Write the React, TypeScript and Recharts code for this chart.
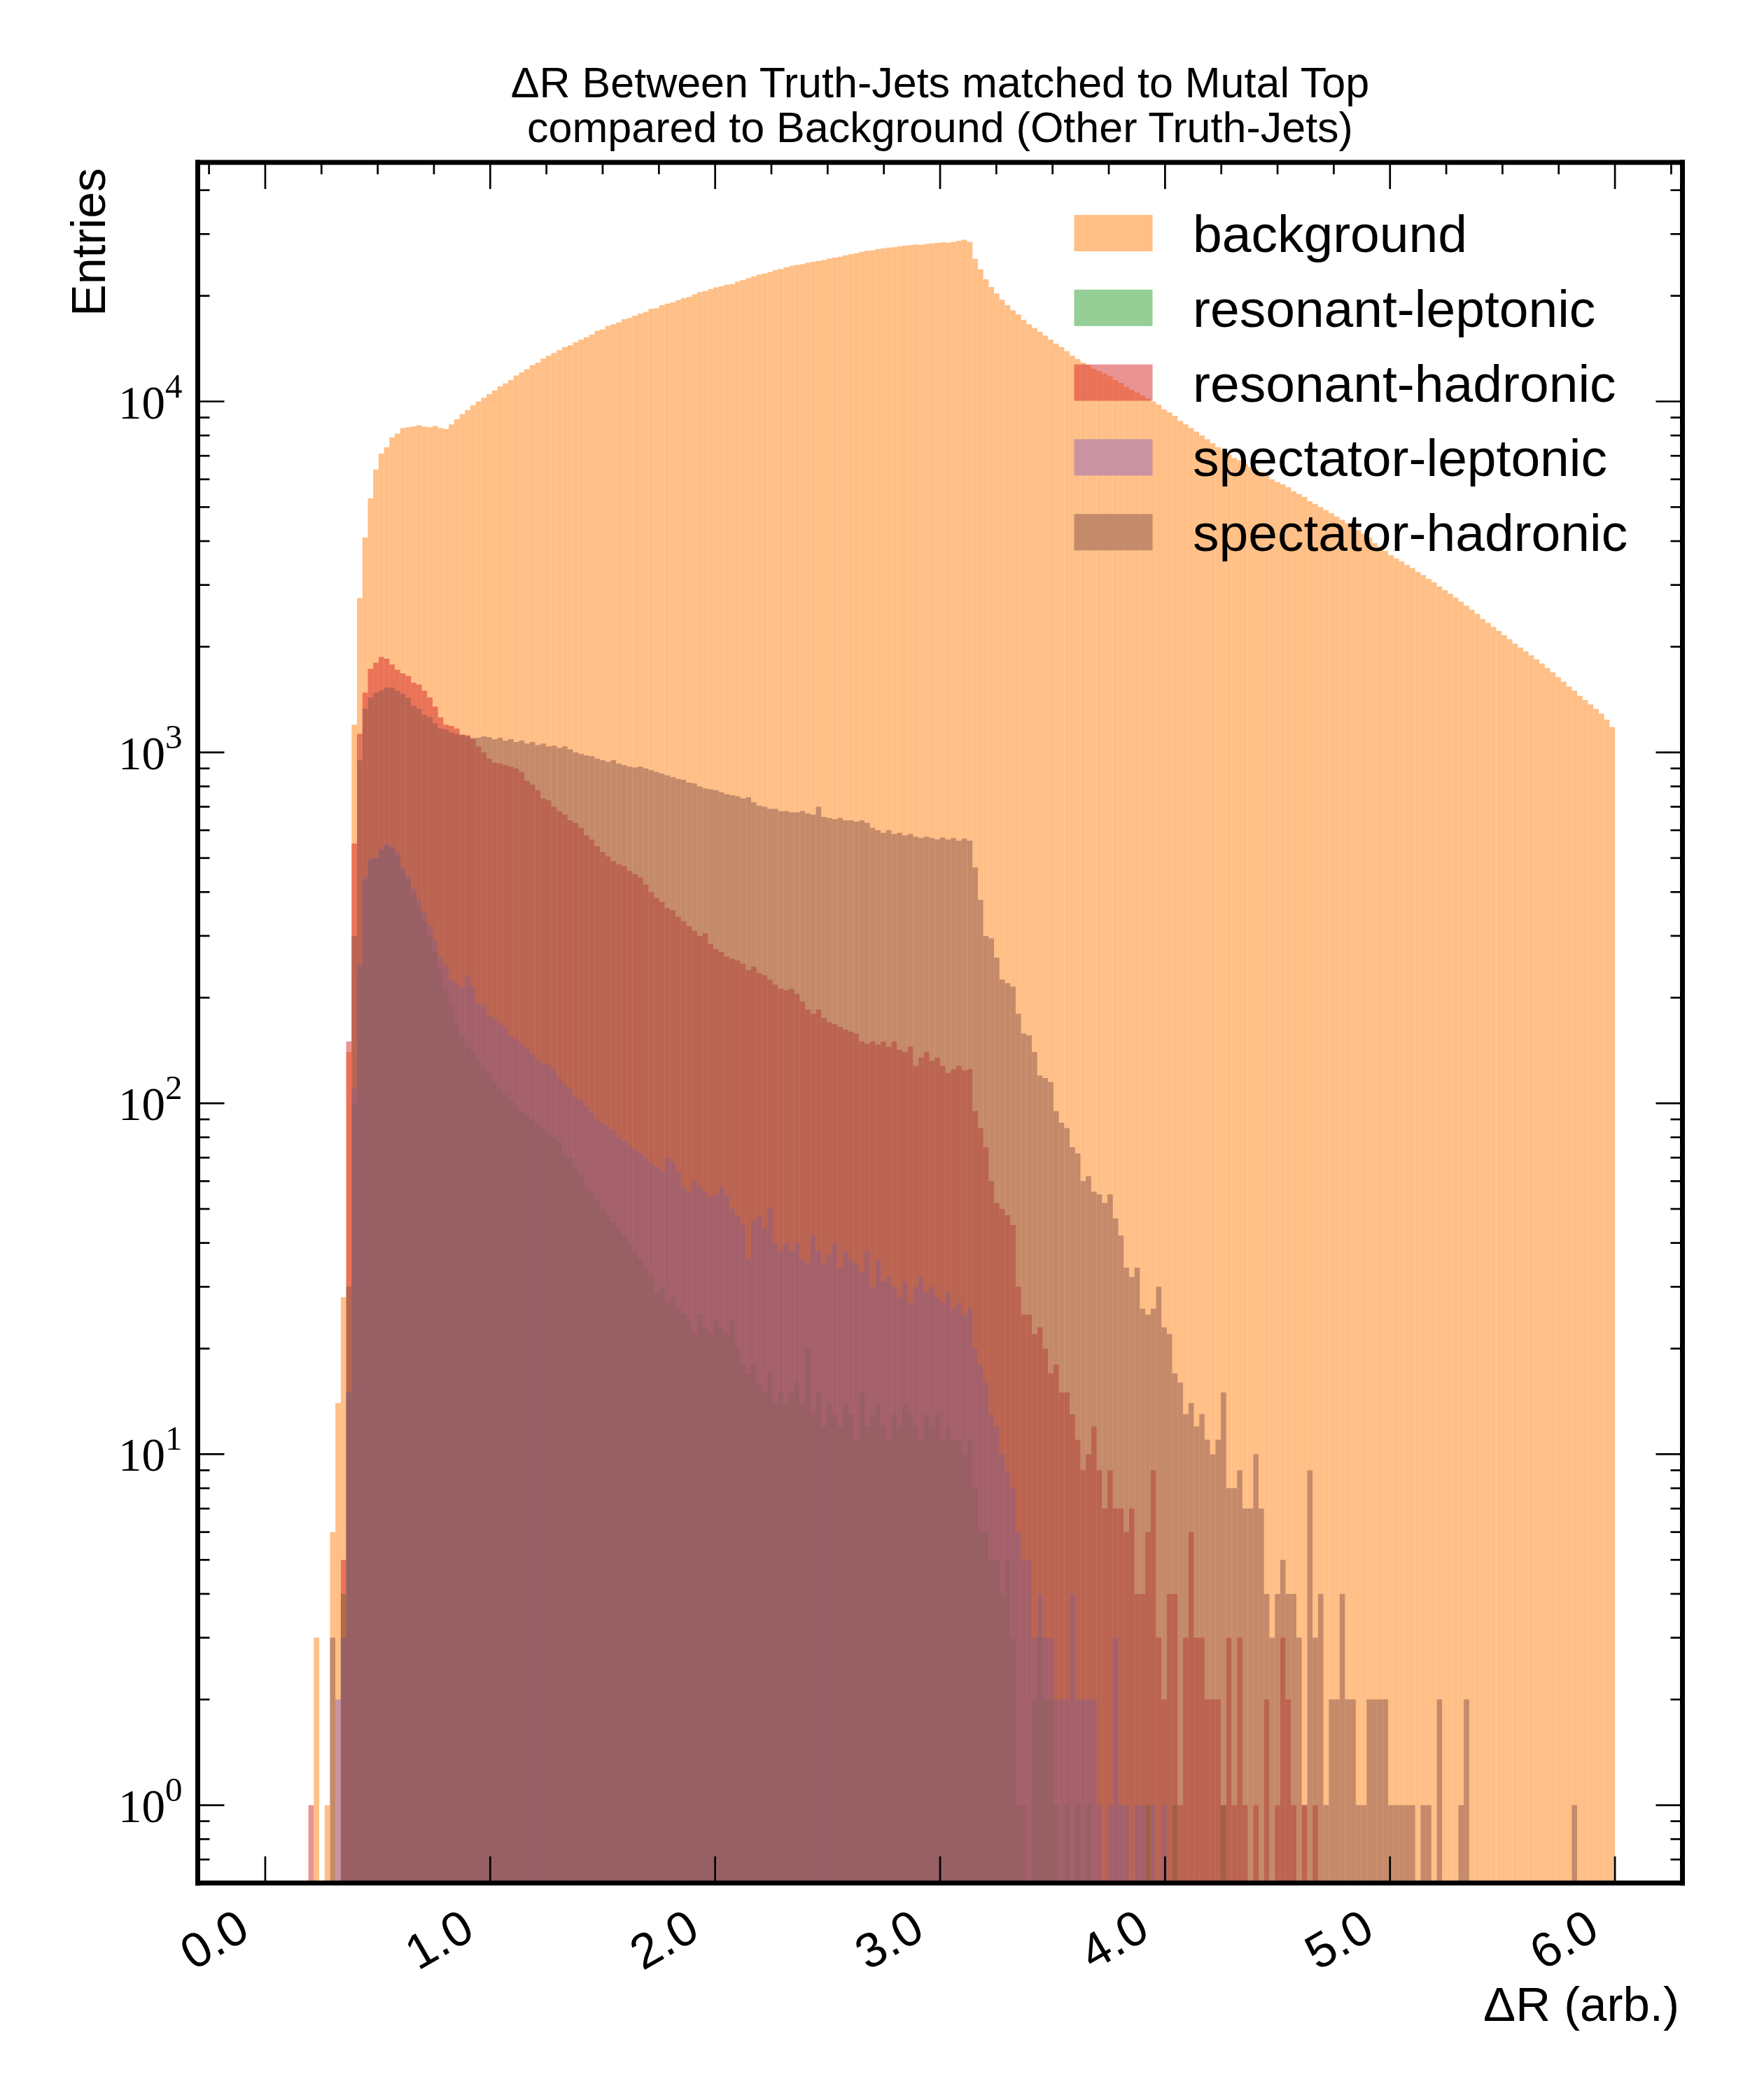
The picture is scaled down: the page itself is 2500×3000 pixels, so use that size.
import React from 'react';
import { ComposedChart, Bar, Line, XAxis, YAxis } from 'recharts';

// histogram bin width in ΔR, bins start at 0
const BIN_WIDTH = 0.024;

// counts per bin (250 bins from 0 to 6)
const background = [
  0, 0, 0, 0, 0, 0, 0, 0, 0, 3,
  0, 1, 6, 14, 28, 140, 1200, 2750, 4100, 5300,
  6400, 7100, 7400, 7900, 8100, 8400, 8450, 8500, 8550, 8480,
  8450, 8520, 8400, 8350, 8600, 8900, 9200, 9450, 9750, 10000,
  10250, 10500, 10750, 11050, 11250, 11500, 11850, 12100, 12350, 12700,
  12900, 13250, 13500, 13750, 14000, 14300, 14450, 14750, 15000, 15250,
  15500, 15900, 16050, 16400, 16600, 16800, 17150, 17300, 17550, 17800,
  18000, 18350, 18450, 18800, 19000, 19150, 19450, 19700, 19850, 20200,
  20500, 20650, 20900, 21150, 21300, 21500, 21600, 21950, 22200, 22450,
  22700, 23000, 23150, 23400, 23700, 23850, 24100, 24350, 24500, 24600,
  24850, 25000, 25150, 25300, 25550, 25700, 25850, 26100, 26300, 26450,
  26700, 26900, 26950, 27200, 27300, 27450, 27500, 27700, 27800, 27900,
  28000, 27950, 28100, 28200, 28300, 28400, 28350, 28500, 28700, 28900,
  28500, 25500, 23800, 22300, 21200, 20300, 19500, 18800, 18200, 17700,
  17100, 16600, 16200, 15800, 15400, 15000, 14600, 14300, 13900, 13500,
  13200, 12900, 12700, 12400, 12200, 12000, 11800, 11500, 11300, 11000,
  10800, 10600, 10400, 10200, 10000, 9800, 9500, 9300, 9100, 8800,
  8600, 8400, 8200, 8000, 7800, 7600, 7400, 7250, 7050, 6900,
  6800, 6650, 6500, 6400, 6300, 6150, 6000, 5900, 5800, 5700,
  5550, 5450, 5350, 5200, 5100, 5000, 4900, 4800, 4700, 4600,
  4500, 4400, 4300, 4200, 4100, 3950, 3850, 3750, 3650, 3570,
  3500, 3420, 3350, 3270, 3200, 3120, 3050, 2970, 2900, 2830,
  2760, 2690, 2620, 2550, 2480, 2400, 2340, 2280, 2220, 2160,
  2100, 2040, 1990, 1940, 1890, 1840, 1790, 1740, 1690, 1640,
  1590, 1540, 1500, 1450, 1410, 1370, 1330, 1290, 1240, 1180,
];

const resonantLeptonic = [
  0, 0, 0, 0, 0, 0, 0, 0, 0, 0,
  0, 0, 0, 0, 4, 15, 100, 240, 430, 490,
  500, 525, 540, 530, 505, 460, 430, 395, 360, 330,
  300, 270, 240, 210, 190, 170, 155, 145, 140, 132,
  126, 122, 115, 110, 106, 102, 98, 95, 93, 90,
  88, 85, 82, 80, 78, 72, 70, 66, 63, 58,
  56, 53, 50, 48, 46, 44, 42, 40, 38, 36,
  34, 32, 29, 30, 27, 28, 26, 25, 24, 22,
  25, 23, 22, 24, 23, 22, 24, 20, 18, 17,
  18, 16, 15, 17, 14, 15, 14, 15, 16, 14,
  20, 13, 15, 12, 14, 13, 12, 14, 13, 11,
  15, 12, 13, 14, 12, 11, 13, 12, 14, 13,
  12, 11, 13, 12, 13, 11, 12, 11, 11, 10,
  11, 8, 6, 6, 5, 5, 4, 5, 3, 1,
  1, 0, 2, 3, 2, 2, 1, 0, 1, 0,
  1, 0, 1, 0, 0, 0, 0, 0, 0, 0,
  0, 0, 0, 1, 0, 0, 0, 0, 1, 0,
  0, 0, 0, 0, 0, 0, 0, 1, 0, 0,
  0, 0, 0, 0, 0, 0, 0, 0, 0, 0,
  0, 0, 0, 0, 0, 0, 0, 0, 0, 0,
  0, 0, 0, 0, 0, 0, 0, 0, 0, 0,
  0, 0, 0, 0, 0, 0, 0, 0, 0, 0,
  0, 0, 0, 0, 0, 0, 0, 0, 0, 0,
  0, 0, 0, 0, 0, 0, 0, 0, 0, 0,
  0, 0, 0, 0, 0, 0, 0, 0, 0, 0,
];

const resonantHadronic = [
  0, 0, 0, 0, 0, 0, 0, 0, 1, 0,
  0, 0, 0, 0, 5, 150, 550, 1130, 1480, 1730,
  1800, 1870, 1850, 1780, 1720, 1680, 1650, 1580, 1560, 1500,
  1435, 1350, 1258, 1200, 1190, 1170, 1125, 1120, 1090, 1040,
  1000, 960, 935, 930, 920, 910, 900, 880, 830, 810,
  780, 740, 730, 700, 680, 665, 640, 630, 610, 580,
  565, 540, 520, 505, 490, 480, 475, 460, 450, 440,
  420, 400, 385, 375, 360, 355, 340, 330, 320, 310,
  300, 305, 285, 275, 270, 262, 258, 255, 250, 240,
  245, 235, 232, 225, 218, 212, 210, 212, 205, 195,
  185, 180, 185, 175, 170, 168, 165, 162, 160, 158,
  150, 148, 150, 147, 150, 145, 150, 142, 140, 145,
  128, 135, 140, 132, 135, 128, 122, 125, 128, 124,
  125, 95, 85, 75, 60, 52, 50, 48, 45, 30,
  25, 25, 22, 23, 20, 17, 18, 15, 15, 13,
  11, 9, 10, 12, 9, 7, 9, 7, 7, 6,
  7, 4, 4, 6, 9, 3, 2, 4, 4, 1,
  3, 6, 3, 3, 2, 2, 2, 1, 3, 1,
  3, 1, 0, 1, 0, 2, 0, 1, 3, 2,
  1, 0, 1, 0, 1, 0, 0, 0, 0, 0,
  0, 0, 0, 0, 0, 0, 0, 0, 0, 0,
  0, 0, 0, 0, 0, 0, 0, 0, 0, 0,
  0, 0, 0, 0, 0, 0, 0, 0, 0, 0,
  0, 0, 0, 0, 0, 0, 0, 0, 0, 0,
  0, 0, 0, 0, 0, 0, 0, 0, 0, 0,
];

const spectatorLeptonic = [
  0, 0, 0, 0, 0, 0, 0, 0, 0, 0,
  0, 0, 0, 2, 3, 15, 110, 250, 440, 498,
  500, 530, 548, 540, 519, 470, 442, 410, 380, 350,
  320, 290, 260, 246, 225, 220, 215, 232, 215, 193,
  190, 178, 175, 169, 165, 155, 152, 148, 144, 138,
  133, 130, 129, 125, 118, 113, 110, 104, 102, 98,
  94, 90, 88, 86, 84, 80, 78, 76, 74, 72,
  70, 68, 66, 64, 70, 68, 64, 58, 56, 60,
  58, 56, 54, 55, 58, 55, 50, 48, 45, 36,
  46, 48, 44, 50, 40, 38, 40, 38, 40, 36,
  35, 42, 38, 35, 37, 40, 34, 38, 36, 35,
  33, 38, 30, 36, 31, 32, 30, 28, 31, 27,
  30, 32, 29, 30, 28, 27, 29, 26, 27, 25,
  26, 20, 18, 16, 13, 12, 10, 9, 8, 6,
  5, 5, 3, 4, 3, 3, 2, 2, 2, 4,
  2, 2, 2, 2, 1, 0, 1, 3, 1, 1,
  0, 1, 1, 0, 1, 0, 1, 0, 0, 0,
  0, 0, 0, 0, 0, 0, 0, 0, 0, 0,
  0, 0, 0, 0, 0, 0, 0, 0, 0, 0,
  0, 0, 0, 0, 0, 0, 0, 0, 0, 0,
  0, 0, 0, 0, 0, 0, 0, 0, 0, 0,
  0, 0, 0, 0, 0, 0, 0, 0, 0, 0,
  0, 0, 0, 0, 0, 0, 0, 0, 0, 0,
  0, 0, 0, 0, 0, 0, 0, 0, 0, 0,
  0, 0, 0, 0, 0, 0, 0, 0, 0, 0,
];

const spectatorHadronic = [
  0, 0, 0, 0, 0, 0, 0, 0, 0, 0,
  0, 0, 3, 0, 3, 30, 300, 950, 1330, 1435,
  1480, 1500, 1530, 1530, 1500, 1470, 1430, 1360, 1330, 1280,
  1260, 1210, 1170, 1160, 1140, 1128, 1120, 1110, 1100, 1100,
  1110, 1105, 1090, 1100, 1080, 1090, 1070, 1080, 1060, 1070,
  1050, 1060, 1040, 1045, 1030, 1040, 1020, 1000, 990, 980,
  975, 960, 950, 940, 950, 930, 920, 910, 905, 910,
  900, 890, 880, 870, 860, 850, 840, 835, 820, 815,
  800, 790, 785, 780, 770, 760, 755, 750, 740, 745,
  720, 705, 700, 690, 690, 680, 680, 675, 675, 680,
  670, 665, 700, 655, 650, 645, 650, 640, 640, 635,
  640, 630, 610, 600, 590, 600, 585, 590, 580, 585,
  575, 570, 575, 570, 565, 572, 565, 570, 560, 568,
  560, 470, 380, 300, 295, 260, 225, 220, 215, 180,
  158, 156, 140, 120, 118, 115, 95, 88, 85, 75,
  72, 60, 62, 56, 55, 52, 55, 47, 42, 34,
  32, 34, 26, 25, 26, 30, 23, 22, 17, 16,
  13, 14, 12, 13, 11, 10, 11, 15, 8, 8,
  9, 7, 7, 10, 7, 4, 3, 4, 5, 4,
  4, 3, 1, 9, 3, 4, 1, 2, 2, 4,
  2, 2, 1, 1, 2, 2, 2, 2, 1, 1,
  1, 1, 1, 0, 1, 1, 0, 2, 0, 0,
  0, 1, 2, 0, 0, 0, 0, 0, 0, 0,
  0, 0, 0, 0, 0, 0, 0, 0, 0, 0,
  0, 0, 1, 0, 0, 0, 0, 0, 0, 0,
];

const seriesKeys = ['background', 'resonantLeptonic', 'resonantHadronic', 'spectatorLeptonic', 'spectatorHadronic'];
const seriesNames = ['background', 'resonant-leptonic', 'resonant-hadronic', 'spectator-leptonic', 'spectator-hadronic'];
const seriesColors = ['#ff7f0e', '#2ca02c', '#d62728', '#9467bd', '#8c564b'];

const xLabelTicks = [0, 1, 2, 3, 4, 5, 6];
const titleLines = ['\u0394R Between Truth-Jets matched to Mutal Top', 'compared to Background (Other Truth-Jets)'];

// layout (px)
const W = 2500;
const H = 3000;
const PLOT = { left: 282.5, right: 2403.5, top: 232, bottom: 2690 };
const X_DOMAIN: [number, number] = [-0.3, 6.3];
const Y_DOMAIN: [number, number] = [0.6, 48000];
const MAJOR = 38;
const MINOR = 17;
const TICK_W = 2.7;
const SANS = '"Liberation Sans", Arial, Helvetica, sans-serif';
const SERIF = '"Liberation Serif", "Times New Roman", serif';

const xMinorTicks: number[] = [];
for (let k = -1; k <= 25; k++) xMinorTicks.push(k * 0.25);
const yTicks: number[] = [];
for (let e = -1; e <= 4; e++) {
  for (let m = 1; m <= 9; m++) {
    const v = m * Math.pow(10, e);
    if (v >= Y_DOMAIN[0] && v <= Y_DOMAIN[1]) yTicks.push(v);
  }
}

const nz = (v: number) => (v > 0 ? v : null);
const data = background.map((_, i) => ({
  x: Number(((i + 0.5) * BIN_WIDTH).toFixed(4)),
  background: nz(background[i]),
  resonantLeptonic: nz(resonantLeptonic[i]),
  resonantHadronic: nz(resonantHadronic[i]),
  spectatorLeptonic: nz(spectatorLeptonic[i]),
  spectatorHadronic: nz(spectatorHadronic[i]),
}));

const binPx = ((PLOT.right - PLOT.left) / (X_DOMAIN[1] - X_DOMAIN[0])) * BIN_WIDTH - 0.05;

const isDecade = (v: number) => Math.abs(Math.log10(v) - Math.round(Math.log10(v))) < 1e-9;

const BottomTick = (props: any) => {
  const { x, y, payload } = props;
  return (
    <g>
      <line x1={x} y1={y} x2={x} y2={y - MAJOR} stroke="#000" strokeWidth={TICK_W} />
      <text
        transform={`translate(${x - 19},${y + 77}) rotate(-30)`}
        textAnchor="end"
        fontFamily={SANS}
        fontSize={70}
        fill="#000"
      >
        {Number(payload.value).toFixed(1)}
      </text>
    </g>
  );
};

const TopTick = (props: any) => {
  const { x, y, payload } = props;
  const major = Math.abs(payload.value - Math.round(payload.value)) < 1e-9;
  return <line x1={x} y1={y} x2={x} y2={y + (major ? MAJOR : MINOR)} stroke="#000" strokeWidth={TICK_W} />;
};

const LeftTick = (props: any) => {
  const { x, y, payload } = props;
  const v = payload.value;
  const major = isDecade(v);
  return (
    <g>
      <line x1={x} y1={y} x2={x + (major ? MAJOR : MINOR)} y2={y} stroke="#000" strokeWidth={TICK_W} />
      {major && (
        <text x={x - 22} y={y + 24} textAnchor="end" fontFamily={SERIF} fontSize={67} fill="#000">
          10
          <tspan dy={-30} fontSize={49}>
            {Math.round(Math.log10(v))}
          </tspan>
        </text>
      )}
    </g>
  );
};

const RightTick = (props: any) => {
  const { x, y, payload } = props;
  const major = isDecade(payload.value);
  return <line x1={x} y1={y} x2={x - (major ? MAJOR : MINOR)} y2={y} stroke="#000" strokeWidth={TICK_W} />;
};

const frame = { stroke: '#000', strokeWidth: 7, strokeLinecap: 'square' as const };

const App = () => {
  const legendX = 1534.5;
  const legendY = 307;
  const legendStep = 106.8;
  return (
    <div style={{ position: 'absolute', left: 0, top: 0, width: W, height: H, background: '#fff' }}>
      <ComposedChart
        width={W}
        height={H}
        data={data}
        margin={{ top: PLOT.top - 1, right: W - PLOT.right - 1, bottom: 0, left: 0 }}
        barSize={binPx}
        barGap={-binPx}
        barCategoryGap={0}
      >
        <XAxis
          xAxisId="bottom"
          dataKey="x"
          type="number"
          domain={X_DOMAIN}
          allowDataOverflow
          ticks={xLabelTicks}
          interval={0}
          height={H - PLOT.bottom}
          tickLine={false}
          tickSize={0}
          tickMargin={0}
          axisLine={frame}
          tick={(p: any) => <BottomTick {...p} />}
        />
        <XAxis
          xAxisId="top"
          dataKey="x"
          orientation="top"
          type="number"
          domain={X_DOMAIN}
          allowDataOverflow
          ticks={xMinorTicks}
          interval={0}
          height={1}
          tickLine={false}
          tickSize={0}
          tickMargin={0}
          axisLine={frame}
          tick={(p: any) => <TopTick {...p} />}
        />
        <YAxis
          yAxisId="left"
          type="number"
          scale="log"
          domain={Y_DOMAIN}
          allowDataOverflow
          ticks={yTicks}
          interval={0}
          width={PLOT.left}
          tickLine={false}
          tickSize={0}
          tickMargin={0}
          axisLine={frame}
          tick={(p: any) => <LeftTick {...p} />}
        />
        <YAxis
          yAxisId="right"
          orientation="right"
          type="number"
          scale="log"
          domain={Y_DOMAIN}
          allowDataOverflow
          ticks={yTicks}
          interval={0}
          width={1}
          tickLine={false}
          tickSize={0}
          tickMargin={0}
          axisLine={frame}
          tick={(p: any) => <RightTick {...p} />}
        />
        {seriesKeys.map((key, i) => (
          <Bar
            key={key}
            dataKey={key}
            name={seriesNames[i]}
            xAxisId="bottom"
            yAxisId="left"
            fill={seriesColors[i]}
            fillOpacity={0.5}
            isAnimationActive={false}
          />
        ))}
        {/* invisible series so the mirrored top/right axes get drawn */}
        <Line
          dataKey="background"
          xAxisId="top"
          yAxisId="right"
          stroke="none"
          dot={false}
          activeDot={false}
          legendType="none"
          isAnimationActive={false}
        />
      </ComposedChart>
      <svg
        width={W}
        height={H}
        style={{ position: 'absolute', left: 0, top: 0, pointerEvents: 'none' }}
      >
        {titleLines.map((line, i) => (
          <text
            key={line}
            x={(PLOT.left + PLOT.right) / 2}
            y={139 + i * 64}
            textAnchor="middle"
            fontFamily={SANS}
            fontSize={61}
            fill="#000"
          >
            {line}
          </text>
        ))}
        <text transform="translate(150,240) rotate(-90)" textAnchor="end" fontFamily={SANS} fontSize={68} fill="#000">
          Entries
        </text>
        <text x={2399} y={2887} textAnchor="end" fontFamily={SANS} fontSize={69} fill="#000">
          {'\u0394R (arb.)'}
        </text>
        {seriesNames.map((name, i) => (
          <g key={name}>
            <rect
              x={legendX}
              y={legendY + i * legendStep}
              width={112}
              height={52}
              fill={seriesColors[i]}
              fillOpacity={0.5}
            />
            <text
              x={1704}
              y={legendY + i * legendStep + 53}
              fontFamily={SANS}
              fontSize={75}
              fill="#000"
            >
              {name}
            </text>
          </g>
        ))}
      </svg>
    </div>
  );
};

export default App;
